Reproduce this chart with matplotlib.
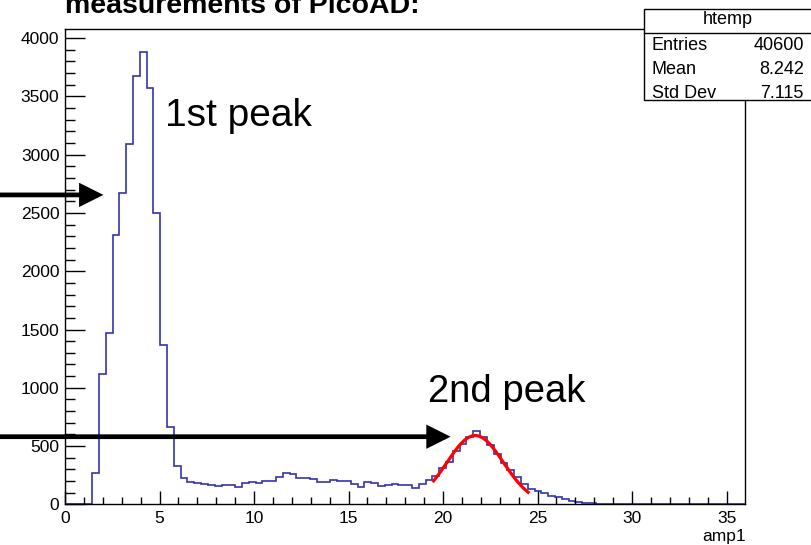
import numpy as np
import matplotlib
matplotlib.use("Agg")
import matplotlib.pyplot as plt
from matplotlib.patches import Rectangle
from matplotlib.lines import Line2D

plt.rcParams['font.family'] = ['Liberation Sans', 'DejaVu Sans']

# htemp: 100 bins from 0 to 36
bin_edges = np.linspace(0, 36, 101)
counts = [0, 0, 0, 0, 266, 1116, 1473, 2311, 2675, 3090,
          3676, 3882, 3571, 2503, 1367, 661, 329, 223, 194, 180,
          172, 166, 160, 166, 166, 151, 185, 188, 183, 200,
          200, 234, 271, 260, 228, 228, 217, 188, 188, 211,
          203, 200, 172, 151, 194, 183, 157, 166, 177, 166,
          163, 140, 172, 209, 243, 309, 366, 458, 515, 580,
          629, 575, 509, 429, 352, 294, 232, 174, 130, 110,
          94, 71, 60, 43, 31, 20, 9, 9, 5, 4,
          3, 2, 1, 0, 0, 0, 0, 0, 0, 0,
          0, 0, 0, 0, 0, 0, 0, 0, 0, 0]

# gaus fit of the 2nd peak
fit_const = 590
fit_mean = 21.7
fit_sigma = 1.5
fit_lo, fit_hi = 19.5, 24.5

stats_name = "htemp"
stats_labels = ["Entries", "Mean", "Std Dev"]
stats_values = ["40600", "8.242", "7.115"]

W, H = 812, 545
fig = plt.figure(figsize=(W / 100, H / 100), dpi=100)
ax = fig.add_axes([65 / W, 1 - 504.3 / H, 680.5 / W, 475 / H])

ax.stairs(counts, bin_edges, color='#3333b0', lw=1.2)
xf = np.linspace(fit_lo, fit_hi, 200)
ax.plot(xf, fit_const * np.exp(-0.5 * ((xf - fit_mean) / fit_sigma) ** 2),
        color='red', lw=2.3)

ax.set_xlim(bin_edges[0], bin_edges[-1])
ax.set_ylim(0, 1.05 * max(counts))

ax.set_xticks(np.arange(0, 36, 5))
ax.set_xticks(np.arange(0, 36, 1), minor=True)
ax.set_yticks(np.arange(0, 4001, 500))
ax.set_yticks(np.arange(0, 4077, 100), minor=True)
ax.tick_params(which='both', direction='in', labelsize=12.5, width=1)
ax.tick_params(axis='y', which='major', length=14.4, pad=4)
ax.tick_params(axis='y', which='minor', length=7.2)
ax.tick_params(axis='x', which='major', length=9.4, pad=5)
ax.tick_params(axis='x', which='minor', length=4.7)
for s in ax.spines.values():
    s.set_linewidth(1.0)

# annotations
ax.text(5.3, 3250, "1st peak", fontsize=28, va='baseline')
ax.text(19.2, 880, "2nd peak", fontsize=27.5, va='baseline')
arrow = dict(arrowstyle='-|>,head_length=0.6,head_width=0.3', lw=3.4,
             color='black', shrinkA=0, shrinkB=0, mutation_scale=20,
             joinstyle='miter', capstyle='butt')
ax.annotate('', xy=(2.03, 2655), xytext=(-3.5, 2655), arrowprops=arrow,
            annotation_clip=False)
ax.annotate('', xy=(20.4, 580), xytext=(-3.5, 580), arrowprops=arrow,
            annotation_clip=False)

fig.text(65 / W, 1 - 13.3 / H, "measurements of PicoAD:", fontsize=20.5,
         fontweight='bold', va='baseline')
fig.text(746 / W, 1 - 541.5 / H, "amp1", fontsize=12.5, ha='right',
         va='baseline')

# stats box
box = Rectangle((644 / W, 1 - 100 / H), 200 / W, 90.7 / H,
                transform=fig.transFigure, fc='white', ec='black', lw=1,
                zorder=5)
fig.add_artist(box)
fig.add_artist(Line2D([644 / W, 1], [1 - 32.7 / H] * 2,
                      transform=fig.transFigure, color='black', lw=1,
                      zorder=6))
fig.text(728 / W, 1 - 20 / H, stats_name, fontsize=13, ha='center',
         va='center', zorder=7)
for i, (lab, val) in enumerate(zip(stats_labels, stats_values)):
    y = 1 - (45 + 24 * i) / H
    fig.text(652 / W, y, lab, fontsize=13, va='center', zorder=7)
    fig.text(804 / W, y, val, fontsize=13, ha='right', va='center', zorder=7)

fig.savefig("out.png", dpi=100)
